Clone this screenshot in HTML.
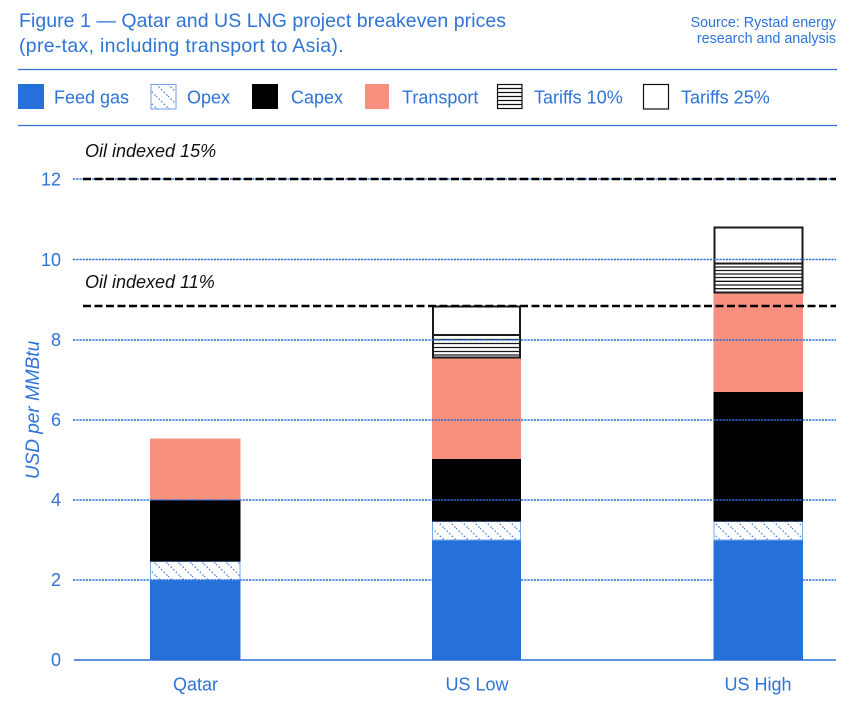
<!DOCTYPE html>
<html>
<head>
<meta charset="utf-8">
<style>
  html,body{margin:0;padding:0;background:#fff;}
  svg{display:block;}
  text{font-family:"Liberation Sans", Arial, sans-serif;}
</style>
</head>
<body>
<svg width="858" height="712" viewBox="0 0 858 712" xmlns="http://www.w3.org/2000/svg">
  <defs>
    <pattern id="opex" patternUnits="userSpaceOnUse" width="12" height="12">
      <rect width="12" height="12" fill="#fff"/>
      <line x1="0" y1="0" x2="12" y2="12" stroke="#4f8ae4" stroke-width="1.4" stroke-dasharray="1.5 2.2"/>
    </pattern>
  </defs>

  <!-- Title -->
  <text x="19" y="27" font-size="19.5" letter-spacing="0.05" fill="#2e73d8">Figure 1 — Qatar and US LNG project breakeven prices</text>
  <text x="19" y="52" font-size="19.5" letter-spacing="0.3" fill="#2e73d8">(pre-tax, including transport to Asia).</text>
  <text x="836" y="27" font-size="14.3" fill="#2e73d8" text-anchor="end">Source: Rystad energy</text>
  <text x="836" y="43" font-size="14.3" fill="#2e73d8" text-anchor="end">research and analysis</text>

  <line x1="18" y1="69.5" x2="837" y2="69.5" stroke="#2e6fd0" stroke-width="1.3"/>
  <line x1="18" y1="125.5" x2="837" y2="125.5" stroke="#2e6fd0" stroke-width="1.3"/>

  <!-- Legend -->
  <rect x="18" y="84" width="26" height="25" fill="#2671d9"/>
  <text x="54" y="103.5" font-size="18" fill="#2e73d8">Feed gas</text>
  <rect x="151" y="84.5" width="25" height="24.5" fill="url(#opex)" stroke="#6f9fe8" stroke-width="1"/>
  <text x="187" y="103.5" font-size="18" fill="#2e73d8">Opex</text>
  <rect x="252" y="84" width="26" height="25" fill="#000"/>
  <text x="291" y="103.5" font-size="18" fill="#2e73d8">Capex</text>
  <rect x="365" y="84" width="24" height="25" fill="#f7907f"/>
  <text x="402" y="103.5" font-size="18" fill="#2e73d8">Transport</text>
  <g>
    <rect x="497.5" y="84.5" width="24.5" height="24" fill="#fff" stroke="#111" stroke-width="1.2"/>
    <line x1="497.5" y1="88.5" x2="522" y2="88.5" stroke="#111" stroke-width="1.2"/>
    <line x1="497.5" y1="92.5" x2="522" y2="92.5" stroke="#111" stroke-width="1.2"/>
    <line x1="497.5" y1="96.5" x2="522" y2="96.5" stroke="#111" stroke-width="1.2"/>
    <line x1="497.5" y1="100.5" x2="522" y2="100.5" stroke="#111" stroke-width="1.2"/>
    <line x1="497.5" y1="104.5" x2="522" y2="104.5" stroke="#111" stroke-width="1.2"/>
  </g>
  <text x="534" y="103.5" font-size="18" fill="#2e73d8">Tariffs 10%</text>
  <rect x="643.5" y="84.5" width="25" height="24.5" fill="#fff" stroke="#111" stroke-width="1.2"/>
  <text x="681" y="103.5" font-size="18" fill="#2e73d8">Tariffs 25%</text>

  <!-- Bars: Qatar -->
  <rect x="150" y="580" width="90.5" height="80" fill="#2671d9"/>
  <rect x="150.5" y="561.5" width="89.5" height="18.5" fill="url(#opex)" stroke="#7aa6ea" stroke-width="1"/>
  <rect x="150" y="500" width="90.5" height="61.5" fill="#000"/>
  <rect x="150" y="438.5" width="90.5" height="61.5" fill="#f7907f"/>

  <!-- Bars: US Low -->
  <rect x="432" y="540" width="89" height="120" fill="#2671d9"/>
  <rect x="432.5" y="521.5" width="88" height="18.5" fill="url(#opex)" stroke="#7aa6ea" stroke-width="1"/>
  <rect x="432" y="459" width="89" height="62.5" fill="#000"/>
  <rect x="432" y="357.5" width="89" height="101.5" fill="#f7907f"/>
  <rect x="433" y="335" width="87" height="22.5" fill="#fff" stroke="#1a1a1a" stroke-width="2"/>
  <g stroke="#1a1a1a" stroke-width="1.3">
    <line x1="433" y1="339.5" x2="520" y2="339.5"/>
    <line x1="433" y1="343.5" x2="520" y2="343.5"/>
    <line x1="433" y1="347.5" x2="520" y2="347.5"/>
    <line x1="433" y1="351.5" x2="520" y2="351.5"/>
    <line x1="433" y1="355" x2="520" y2="355"/>
  </g>
  <rect x="433" y="306.5" width="87" height="28.5" fill="#fff" stroke="#1a1a1a" stroke-width="2"/>

  <!-- Bars: US High -->
  <rect x="713.5" y="540" width="89.5" height="120" fill="#2671d9"/>
  <rect x="714" y="521.5" width="88.5" height="18.5" fill="url(#opex)" stroke="#7aa6ea" stroke-width="1"/>
  <rect x="713.5" y="392" width="89.5" height="129.5" fill="#000"/>
  <rect x="713.5" y="293" width="89.5" height="99" fill="#f7907f"/>
  <rect x="714.5" y="263.5" width="88" height="29" fill="#fff" stroke="#1a1a1a" stroke-width="2"/>
  <g stroke="#1a1a1a" stroke-width="1.3">
    <line x1="714.5" y1="267" x2="802.5" y2="267"/>
    <line x1="714.5" y1="270.5" x2="802.5" y2="270.5"/>
    <line x1="714.5" y1="274" x2="802.5" y2="274"/>
    <line x1="714.5" y1="277.5" x2="802.5" y2="277.5"/>
    <line x1="714.5" y1="281.3" x2="802.5" y2="281.3"/>
    <line x1="714.5" y1="285" x2="802.5" y2="285"/>
    <line x1="714.5" y1="288.7" x2="802.5" y2="288.7"/>
  </g>
  <rect x="714.5" y="227.5" width="88" height="36" fill="#fff" stroke="#1a1a1a" stroke-width="2"/>

  <!-- Gridlines (on top) -->
  <g stroke="#2a6fd8" stroke-width="1.6" stroke-dasharray="2.2 1">
    <line x1="73" y1="580" x2="836" y2="580"/>
    <line x1="73" y1="500" x2="836" y2="500"/>
    <line x1="73" y1="420" x2="836" y2="420"/>
    <line x1="73" y1="340" x2="836" y2="340"/>
    <line x1="73" y1="259.5" x2="836" y2="259.5"/>
    <line x1="73" y1="179" x2="836" y2="179"/>
  </g>
  <line x1="74" y1="660" x2="836" y2="660" stroke="#2a6fd8" stroke-width="1.6"/>

  <!-- Oil indexed dashed lines -->
  <g stroke="#000" stroke-width="2.5" stroke-dasharray="8 3.5">
    <line x1="83" y1="179" x2="836" y2="179"/>
    <line x1="83" y1="306" x2="836" y2="306"/>
  </g>
  <text x="85" y="157" font-size="18" font-style="italic" fill="#111">Oil indexed 15%</text>
  <text x="85" y="288" font-size="18" font-style="italic" fill="#111">Oil indexed 11%</text>

  <!-- Y ticks -->
  <g font-size="18" fill="#2e73d8" text-anchor="end">
    <text x="61" y="666">0</text>
    <text x="61" y="586">2</text>
    <text x="61" y="506">4</text>
    <text x="61" y="426">6</text>
    <text x="61" y="346">8</text>
    <text x="61" y="266">10</text>
    <text x="61" y="185.5">12</text>
  </g>
  <text transform="translate(39,410) rotate(-90)" font-size="19" font-style="italic" fill="#2e73d8" text-anchor="middle">USD per MMBtu</text>

  <!-- X labels -->
  <g font-size="18" fill="#2e73d8" text-anchor="middle">
    <text x="195.5" y="690.5">Qatar</text>
    <text x="477" y="690.5">US Low</text>
    <text x="758" y="690.5">US High</text>
  </g>
</svg>
</body>
</html>
